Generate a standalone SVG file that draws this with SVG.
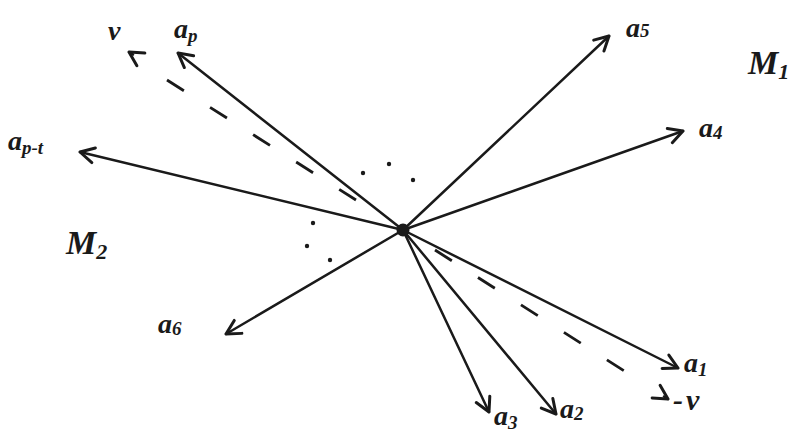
<svg xmlns="http://www.w3.org/2000/svg" width="794" height="441" viewBox="0 0 794 441">
<defs>
<style>
.ln{stroke:#1a1a1a;stroke-width:2.5;fill:none;stroke-linecap:round}
.ds{stroke:#1a1a1a;stroke-width:2.8;fill:none;stroke-dasharray:20 31}
.lb{font-family:"Liberation Serif",serif;font-style:italic;font-weight:bold;fill:#1a1a1a;font-size:28px}
.sb{font-size:19px}
.dot{fill:#1a1a1a}
</style>
<marker id="ah" viewBox="0 0 20 20" refX="17" refY="10" markerWidth="20" markerHeight="20" markerUnits="userSpaceOnUse" orient="auto">
<path d="M3,2.5 L17,10 L3,17.5" fill="none" stroke="#1a1a1a" stroke-width="3" stroke-linecap="round" stroke-linejoin="round"/>
</marker>
</defs>
<rect width="794" height="441" fill="#ffffff"/>
<g id="connectors">
<path id="e-ap" class="ln" d="M403,230 L178,53" marker-end="url(#ah)"/>
<path id="e-apt" class="ln" d="M403,230 L80,152" marker-end="url(#ah)"/>
<path id="e-a5" class="ln" d="M403,230 L609,36" marker-end="url(#ah)"/>
<path id="e-a4" class="ln" d="M403,230 L683,131" marker-end="url(#ah)"/>
<path id="e-a6" class="ln" d="M403,230 L226,334" marker-end="url(#ah)"/>
<path id="e-a3" class="ln" d="M403,230 L489,412" marker-end="url(#ah)"/>
<path id="e-a2" class="ln" d="M403,230 L556,414" marker-end="url(#ah)"/>
<path id="e-a1" class="ln" d="M403,230 L678,368" marker-end="url(#ah)"/>
<path id="e-v" class="ds" d="M167,80 L356,200"/>
<path id="e-v-head" class="ln" d="M133,54.5 L129,52" marker-end="url(#ah)"/>
<path id="e-mv" class="ds" d="M435,250 L640,381"/>
<path id="e-mv-head" class="ln" d="M664,396.5 L668,399" marker-end="url(#ah)"/>
</g>
<g id="center"><circle cx="403" cy="230" r="6.5" class="dot"/></g>
<g id="dots">
<circle cx="363" cy="173" r="2.2" class="dot"/>
<circle cx="389" cy="164" r="2.2" class="dot"/>
<circle cx="413" cy="180" r="2.2" class="dot"/>
<circle cx="313" cy="223" r="2.2" class="dot"/>
<circle cx="307" cy="246" r="2.2" class="dot"/>
<circle cx="330" cy="260" r="2.2" class="dot"/>
</g>
<g id="n-ap"><text class="lb" x="174" y="38">a<tspan class="sb" dy="4">p</tspan></text></g>
<g id="n-v"><text class="lb" x="108" y="40">v</text></g>
<g id="n-apt"><text class="lb" x="8" y="150">a<tspan class="sb" dy="4">p-t</tspan></text></g>
<g id="n-a5"><text class="lb" x="626" y="37">a<tspan class="sb" dy="0">5</tspan></text></g>
<g id="n-a4"><text class="lb" x="699" y="137">a<tspan class="sb" dy="2">4</tspan></text></g>
<g id="n-M1"><text class="lb" x="748" y="74" style="font-size:34px">M<tspan class="sb" dy="5" style="font-size:22px">1</tspan></text></g>
<g id="n-M2"><text class="lb" x="66" y="254" style="font-size:34px">M<tspan class="sb" dy="5" style="font-size:22px">2</tspan></text></g>
<g id="n-a6"><text class="lb" x="158" y="333">a<tspan class="sb" dy="2">6</tspan></text></g>
<g id="n-a3"><text class="lb" x="494" y="425">a<tspan class="sb" dy="4">3</tspan></text></g>
<g id="n-a2"><text class="lb" x="560" y="418">a<tspan class="sb" dy="2">2</tspan></text></g>
<g id="n-a1"><text class="lb" x="684" y="372">a<tspan class="sb" dy="4">1</tspan></text></g>
<g id="n-mv"><text class="lb" x="673" y="410" style="font-size:30px;letter-spacing:3px">-v</text></g>
</svg>
